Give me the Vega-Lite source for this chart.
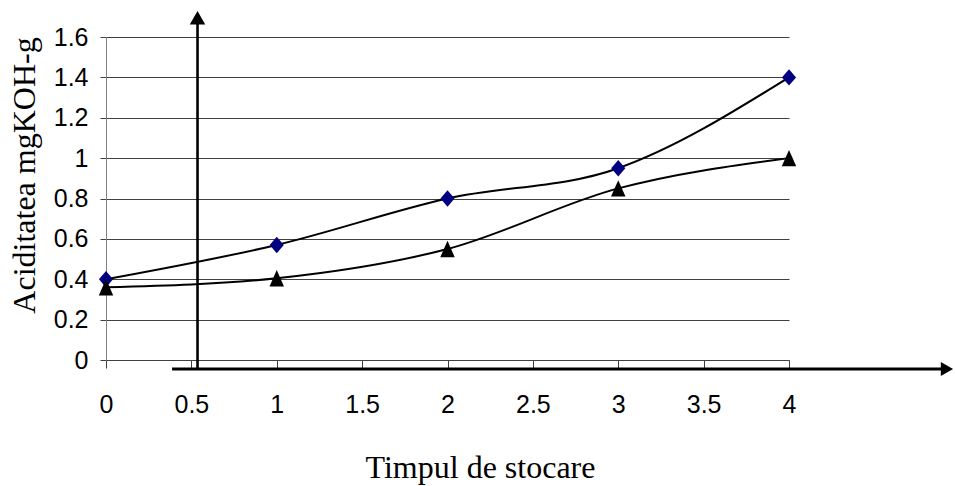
{
  "$schema": "https://vega.github.io/schema/vega-lite/v6.json",
  "width": 683,
  "height": 323,
  "autosize": {"type": "none"},
  "padding": {"left": 106, "top": 37, "right": 166, "bottom": 126},
  "background": "white",
  "config": {
    "view": {"stroke": null},
    "axis": {
      "labelFont": "Liberation Sans Narrow, Arial Narrow, Liberation Sans",
      "labelFontSize": 25,
      "labelColor": "black",
      "titleFont": "Liberation Serif",
      "titleFontSize": 32,
      "titleFontWeight": "normal",
      "titleColor": "black"
    }
  },
  "datasets": {
    "aciditate": [
      {"timp": 0, "valoare": 0.4, "serie": "A"},
      {"timp": 1, "valoare": 0.57, "serie": "A"},
      {"timp": 2, "valoare": 0.8, "serie": "A"},
      {"timp": 3, "valoare": 0.95, "serie": "A"},
      {"timp": 4, "valoare": 1.4, "serie": "A"},
      {"timp": 0, "valoare": 0.36, "serie": "B"},
      {"timp": 1, "valoare": 0.405, "serie": "B"},
      {"timp": 2, "valoare": 0.55, "serie": "B"},
      {"timp": 3, "valoare": 0.85, "serie": "B"},
      {"timp": 4, "valoare": 1.0, "serie": "B"}
    ]
  },
  "layer": [
    {
      "data": {"name": "aciditate"},
      "mark": {"type": "line", "interpolate": "monotone", "color": "black", "strokeWidth": 2, "clip": false},
      "encoding": {
        "x": {
          "field": "timp",
          "type": "quantitative",
          "scale": {"domain": [0, 4], "nice": false, "zero": false},
          "axis": {
            "title": "Timpul de stocare",
            "titleX": 374,
            "titleY": 117,
            "titleAlign": "center",
            "titleBaseline": "alphabetic",
            "values": [0, 0.5, 1, 1.5, 2, 2.5, 3, 3.5, 4],
            "format": "~g",
            "grid": false,
            "domain": true,
            "domainColor": "#404040",
            "tickColor": "#404040",
            "tickSize": 8,
            "labelBaseline": "alphabetic",
            "labelPadding": 44,
            "labelFlush": false,
            "labelOverlap": false
          }
        },
        "y": {
          "field": "valoare",
          "type": "quantitative",
          "scale": {"domain": [0, 1.6], "nice": false},
          "axis": {
            "title": "Aciditatea mgKOH-g",
            "titleX": -72,
            "titleY": 138,
            "titleAngle": -90,
            "titleAlign": "center",
            "titleBaseline": "alphabetic",
            "values": [0, 0.2, 0.4, 0.6, 0.8, 1, 1.2, 1.4, 1.6],
            "format": "~g",
            "grid": true,
            "gridColor": "#404040",
            "gridOpacity": 1,
            "domainColor": "#808080",
            "tickColor": "#404040",
            "tickSize": 6,
            "labelPadding": 12,
            "labelFlush": false,
            "labelOverlap": false
          }
        },
        "detail": {"field": "serie"}
      }
    },
    {
      "data": {"name": "aciditate"},
      "mark": {"type": "point", "filled": true, "opacity": 1, "clip": false},
      "encoding": {
        "x": {"field": "timp", "type": "quantitative"},
        "y": {"field": "valoare", "type": "quantitative"},
        "shape": {"field": "serie", "type": "nominal", "scale": {"domain": ["A", "B"], "range": ["M-0.86,0L0,-1L0.86,0L0,1Z", "M0,-1L0.88,1L-0.88,1Z"]}, "legend": null},
        "color": {"field": "serie", "type": "nominal", "scale": {"domain": ["A", "B"], "range": ["#000080", "#000000"]}, "legend": null},
        "size": {"value": 270}
      }
    },
    {
      "data": {"values": [{}]},
      "mark": {"type": "rule", "color": "black", "strokeWidth": 2.8, "clip": false},
      "encoding": {
        "x": {"datum": 0.387, "type": "quantitative"},
        "x2": {"datum": 4.93},
        "y": {"datum": -0.0446, "type": "quantitative"}
      }
    },
    {
      "data": {"values": [{}]},
      "mark": {"type": "rule", "color": "black", "strokeWidth": 2.6, "clip": false},
      "encoding": {
        "x": {"datum": 0.536, "type": "quantitative"},
        "y": {"datum": -0.0446, "type": "quantitative"},
        "y2": {"datum": 1.7}
      }
    },
    {
      "data": {"values": [{}]},
      "mark": {"type": "point", "shape": "triangle-up", "filled": true, "color": "black", "opacity": 1, "size": 240, "clip": false},
      "encoding": {
        "x": {"datum": 0.536, "type": "quantitative"},
        "y": {"datum": 1.695, "type": "quantitative"}
      }
    },
    {
      "data": {"values": [{}]},
      "mark": {"type": "point", "shape": "triangle-right", "filled": true, "color": "black", "opacity": 1, "size": 200, "clip": false},
      "encoding": {
        "x": {"datum": 4.925, "type": "quantitative"},
        "y": {"datum": -0.0446, "type": "quantitative"}
      }
    }
  ]
}
